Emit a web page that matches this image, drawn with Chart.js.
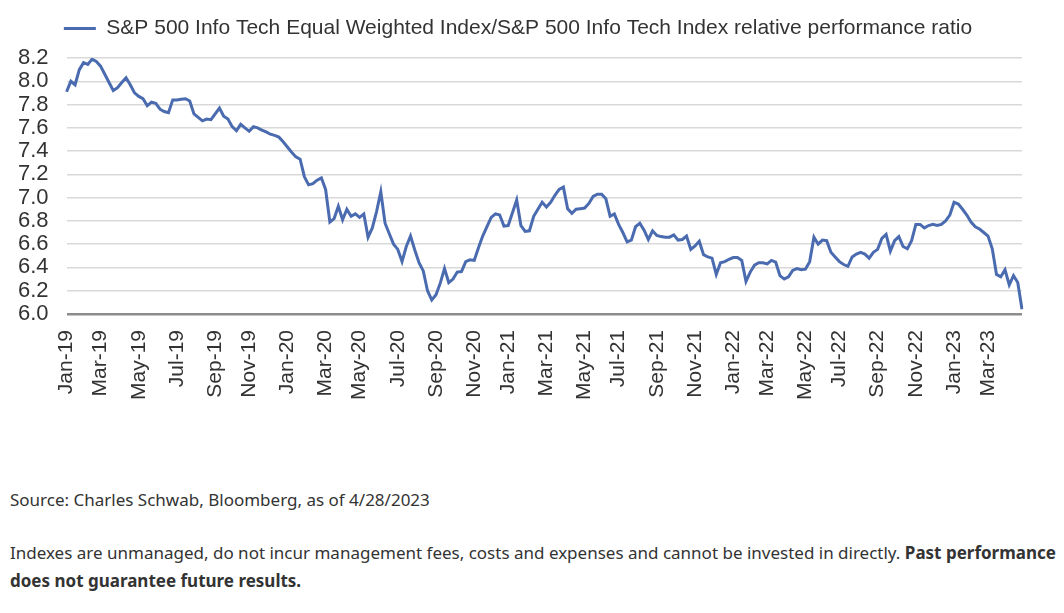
<!DOCTYPE html>
<html>
<head>
<meta charset="utf-8">
<script src="https://cdn.jsdelivr.net/npm/chart.js@4.4.0/dist/chart.umd.min.js"></script>
<style>
  body { margin: 0; background: #fff; width: 1064px; height: 613px; overflow: hidden; }
  #wrap { position: absolute; left: 0; top: 0; width: 1064px; height: 408px; }
  .note { position: absolute; left: 10px; color: #333; font-family: "Noto Sans", sans-serif; font-size: 17px; white-space: nowrap; }
</style>
</head>
<body>
<div id="wrap"><canvas id="ratioChart"></canvas></div>
<div class="note" style="top:489px; line-height:22px;">Source: Charles Schwab, Bloomberg, as of 4/28/2023</div>
<div class="note" style="top:539px; line-height:28px;">Indexes are unmanaged, do not incur management fees, costs and expenses and cannot be invested in directly. <b>Past performance</b><br><b>does not guarantee future results.</b></div>
<script>
// Weekly series, first week Fri 4 Jan 2019, last week Fri 28 Apr 2023
const firstWeek = '2019-01-04';
const seriesLabel = 'S&P 500 Info Tech Equal Weighted Index/S&P 500 Info Tech Index relative performance ratio';

// Ratio values (one per week)
const ratioValues = [
  7.91, 8.00, 7.97, 8.10, 8.16, 8.145, 8.19, 8.17, 8.13, 8.06,
  7.99, 7.92, 7.945, 7.99, 8.03, 7.97, 7.90, 7.87, 7.85, 7.79,
  7.82, 7.81, 7.76, 7.74, 7.73, 7.84, 7.84, 7.845, 7.85, 7.83,
  7.72, 7.69, 7.66, 7.675, 7.67, 7.72, 7.77, 7.70, 7.675, 7.61,
  7.575, 7.63, 7.60, 7.57, 7.61, 7.60, 7.58, 7.565, 7.545, 7.535,
  7.52, 7.48, 7.435, 7.39, 7.35, 7.33, 7.18, 7.11, 7.12, 7.15,
  7.17, 7.07, 6.79, 6.82, 6.925, 6.81, 6.90, 6.84, 6.86, 6.83,
  6.86, 6.66, 6.74, 6.88, 7.05, 6.78, 6.69, 6.60, 6.555, 6.45,
  6.58, 6.67, 6.55, 6.44, 6.37, 6.20, 6.12, 6.165, 6.265, 6.39,
  6.27, 6.30, 6.36, 6.365, 6.45, 6.465, 6.46, 6.57, 6.67, 6.75,
  6.83, 6.86, 6.85, 6.755, 6.76, 6.87, 6.98, 6.76, 6.71, 6.715,
  6.84, 6.90, 6.96, 6.92, 6.96, 7.02, 7.07, 7.09, 6.905, 6.865,
  6.90, 6.905, 6.91, 6.95, 7.01, 7.03, 7.03, 6.99, 6.84, 6.86,
  6.77, 6.70, 6.62, 6.635, 6.75, 6.78, 6.72, 6.64, 6.715, 6.675,
  6.665, 6.66, 6.66, 6.68, 6.635, 6.64, 6.67, 6.555, 6.585, 6.625,
  6.51, 6.49, 6.48, 6.34, 6.44, 6.45, 6.47, 6.485, 6.485, 6.46,
  6.28, 6.36, 6.42, 6.44, 6.44, 6.43, 6.46, 6.445, 6.33, 6.30,
  6.32, 6.375, 6.39, 6.38, 6.385, 6.45, 6.66, 6.60, 6.635, 6.63,
  6.53, 6.49, 6.45, 6.425, 6.41, 6.49, 6.515, 6.53, 6.515, 6.48,
  6.53, 6.555, 6.65, 6.685, 6.54, 6.63, 6.665, 6.58, 6.56, 6.63,
  6.77, 6.77, 6.74, 6.76, 6.77, 6.76, 6.77, 6.80, 6.85, 6.96,
  6.945, 6.90, 6.85, 6.79, 6.75, 6.73, 6.70, 6.67, 6.56, 6.34,
  6.32, 6.38, 6.25, 6.33, 6.27, 6.04
];

// Month tick labels shown on the x axis
const tickMonths = [
  'Jan-19', 'Mar-19', 'May-19', 'Jul-19', 'Sep-19', 'Nov-19',
  'Jan-20', 'Mar-20', 'May-20', 'Jul-20', 'Sep-20', 'Nov-20',
  'Jan-21', 'Mar-21', 'May-21', 'Jul-21', 'Sep-21', 'Nov-21',
  'Jan-22', 'Mar-22', 'May-22', 'Jul-22', 'Sep-22', 'Nov-22',
  'Jan-23', 'Mar-23'
];

// y axis range
const yMin = 6.0;
const yMax = 8.2;
const yStep = 0.2;

const monthNames = ['Jan', 'Feb', 'Mar', 'Apr', 'May', 'Jun', 'Jul', 'Aug', 'Sep', 'Oct', 'Nov', 'Dec'];
const lineColor = '#4a6baf';
const textColor = '#333333';
const axisFont = 'Liberation Sans, Arial, sans-serif';

// Build the weekly dates (category labels)
const weekDates = ratioValues.map((v, i) => {
  const d = new Date(firstWeek + 'T00:00:00Z');
  d.setUTCDate(d.getUTCDate() + i * 7);
  return d;
});
const weekLabels = weekDates.map(d => d.toISOString().slice(0, 10));

function monthLabel(d) {
  return monthNames[d.getUTCMonth()] + '-' + String(d.getUTCFullYear()).slice(2);
}

// Only the first week of each listed month gets a label
function xTickLabel(value, index) {
  const d = weekDates[index];
  const label = monthLabel(d);
  if (!tickMonths.includes(label)) return null;
  if (index > 0 && monthLabel(weekDates[index - 1]) === label) return null;
  return label;
}

// Extra room under the legend, and nudge it a bit to the right
const legendGap = {
  id: 'legendGap',
  beforeInit(chart) {
    const fit = chart.legend.fit;
    chart.legend.fit = function () {
      fit.call(this);
      this.height += 9;
    };
  },
  afterLayout(chart) {
    chart.legend.left += 7;
    chart.legend.right += 7;
  },
};

document.addEventListener('DOMContentLoaded', () => {
  const ctx = document.getElementById('ratioChart').getContext('2d');

  new Chart(ctx, {
    type: 'line',
    data: {
      labels: weekLabels,
      datasets: [
        {
          label: seriesLabel,
          data: ratioValues,
          borderColor: lineColor,
          backgroundColor: lineColor,
          borderWidth: 3,
          pointRadius: 0,
          pointStyle: 'line',
          tension: 0,
          fill: false,
        },
      ],
    },
    plugins: [legendGap],
    options: {
      responsive: true,
      maintainAspectRatio: false,
      animation: false,
      layout: {
        padding: { left: 0, right: 42, top: 8, bottom: 0 },
      },
      plugins: {
        legend: {
          position: 'top',
          labels: {
            usePointStyle: true,
            pointStyle: 'line',
            pointStyleWidth: 32,
            color: textColor,
            font: { family: axisFont, size: 21 },
            padding: 10,
          },
        },
        tooltip: { enabled: false },
      },
      scales: {
        x: {
          grid: { display: false },
          border: { display: false },
          ticks: {
            autoSkip: false,
            minRotation: 90,
            maxRotation: 90,
            padding: 8,
            color: textColor,
            font: { family: axisFont, size: 21 },
            callback: xTickLabel,
          },
        },
        y: {
          min: yMin,
          max: yMax,
          border: { display: false },
          grid: {
            drawTicks: false,
            color: (c) => (c.tick.value === yMin ? '#8c8c8c' : '#d9d9d9'),
            lineWidth: (c) => (c.tick.value === yMin ? 2.5 : 1.5),
          },
          ticks: {
            autoSkip: false,
            stepSize: yStep,
            padding: 18,
            color: textColor,
            font: { family: axisFont, size: 22 },
            callback: (v) => v.toFixed(1),
          },
        },
      },
    },
  });
});
</script>
</body>
</html>
